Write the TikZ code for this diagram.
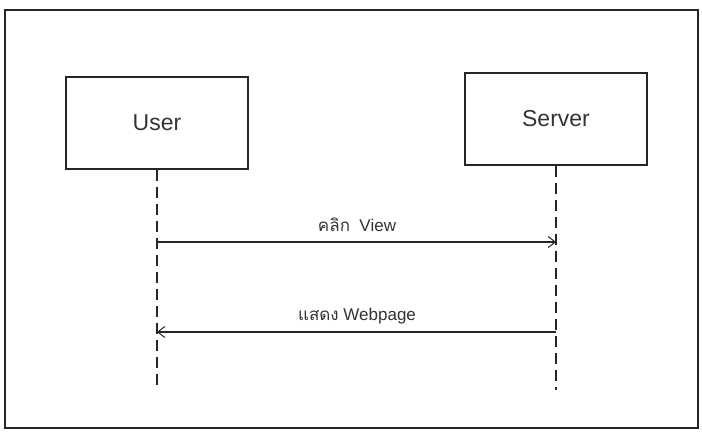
\documentclass[tikz,border=0pt]{standalone}
\usepackage{fontspec}
\setmainfont{Liberation Sans}
\newfontfamily\thaifont[Script=Thai]{Loma}
\usetikzlibrary{arrows.meta}
\tikzset{
  actor/.style={draw=black!85, line width=1.2pt, minimum width=182pt, minimum height=92pt, font=\fontsize{23}{26}\selectfont, text=black!80, inner sep=0pt},
  lifeline/.style={draw=black!85, line width=1.3pt, dash pattern=on 11pt off 6pt},
  msg/.style={draw=black!85, line width=1.1pt, -{Straight Barb[length=7pt,width=11pt,line width=1pt]}},
  msglabel/.style={font=\fontsize{17}{20}\selectfont, text=black!80, inner sep=0pt},
}
\begin{document}
\begin{tikzpicture}[x=1pt,y=-1pt]
  \useasboundingbox (0,0) rectangle (702,433);
  % outer frame
  \draw[line width=1.8pt, black!85] (5,10) rectangle (698,428);
  % participants
  \node[actor] (user) at (157,123) {User};
  \node[actor] (server) at (556,119) {Server};
  % lifeline ends
  \coordinate (uend) at (157,390);
  \coordinate (send) at (556,390);
  \draw[lifeline] (user.south) -- (uend);
  \draw[lifeline] (server.south) -- (send);
  % message anchor points
  \coordinate (m1a) at (157,242);
  \coordinate (m1b) at (556,242);
  \coordinate (m2a) at (556,332);
  \coordinate (m2b) at (157,332);
  \draw[msg] (m1a) -- (m1b);
  \draw[msg] (m2a) -- (m2b);
  \node[msglabel] (l1) at (357,225) {{\thaifont คลิก}\ \ View};
  \node[msglabel] (l2) at (357,316) {{\thaifont แสดง} Webpage};
\end{tikzpicture}
\end{document}
